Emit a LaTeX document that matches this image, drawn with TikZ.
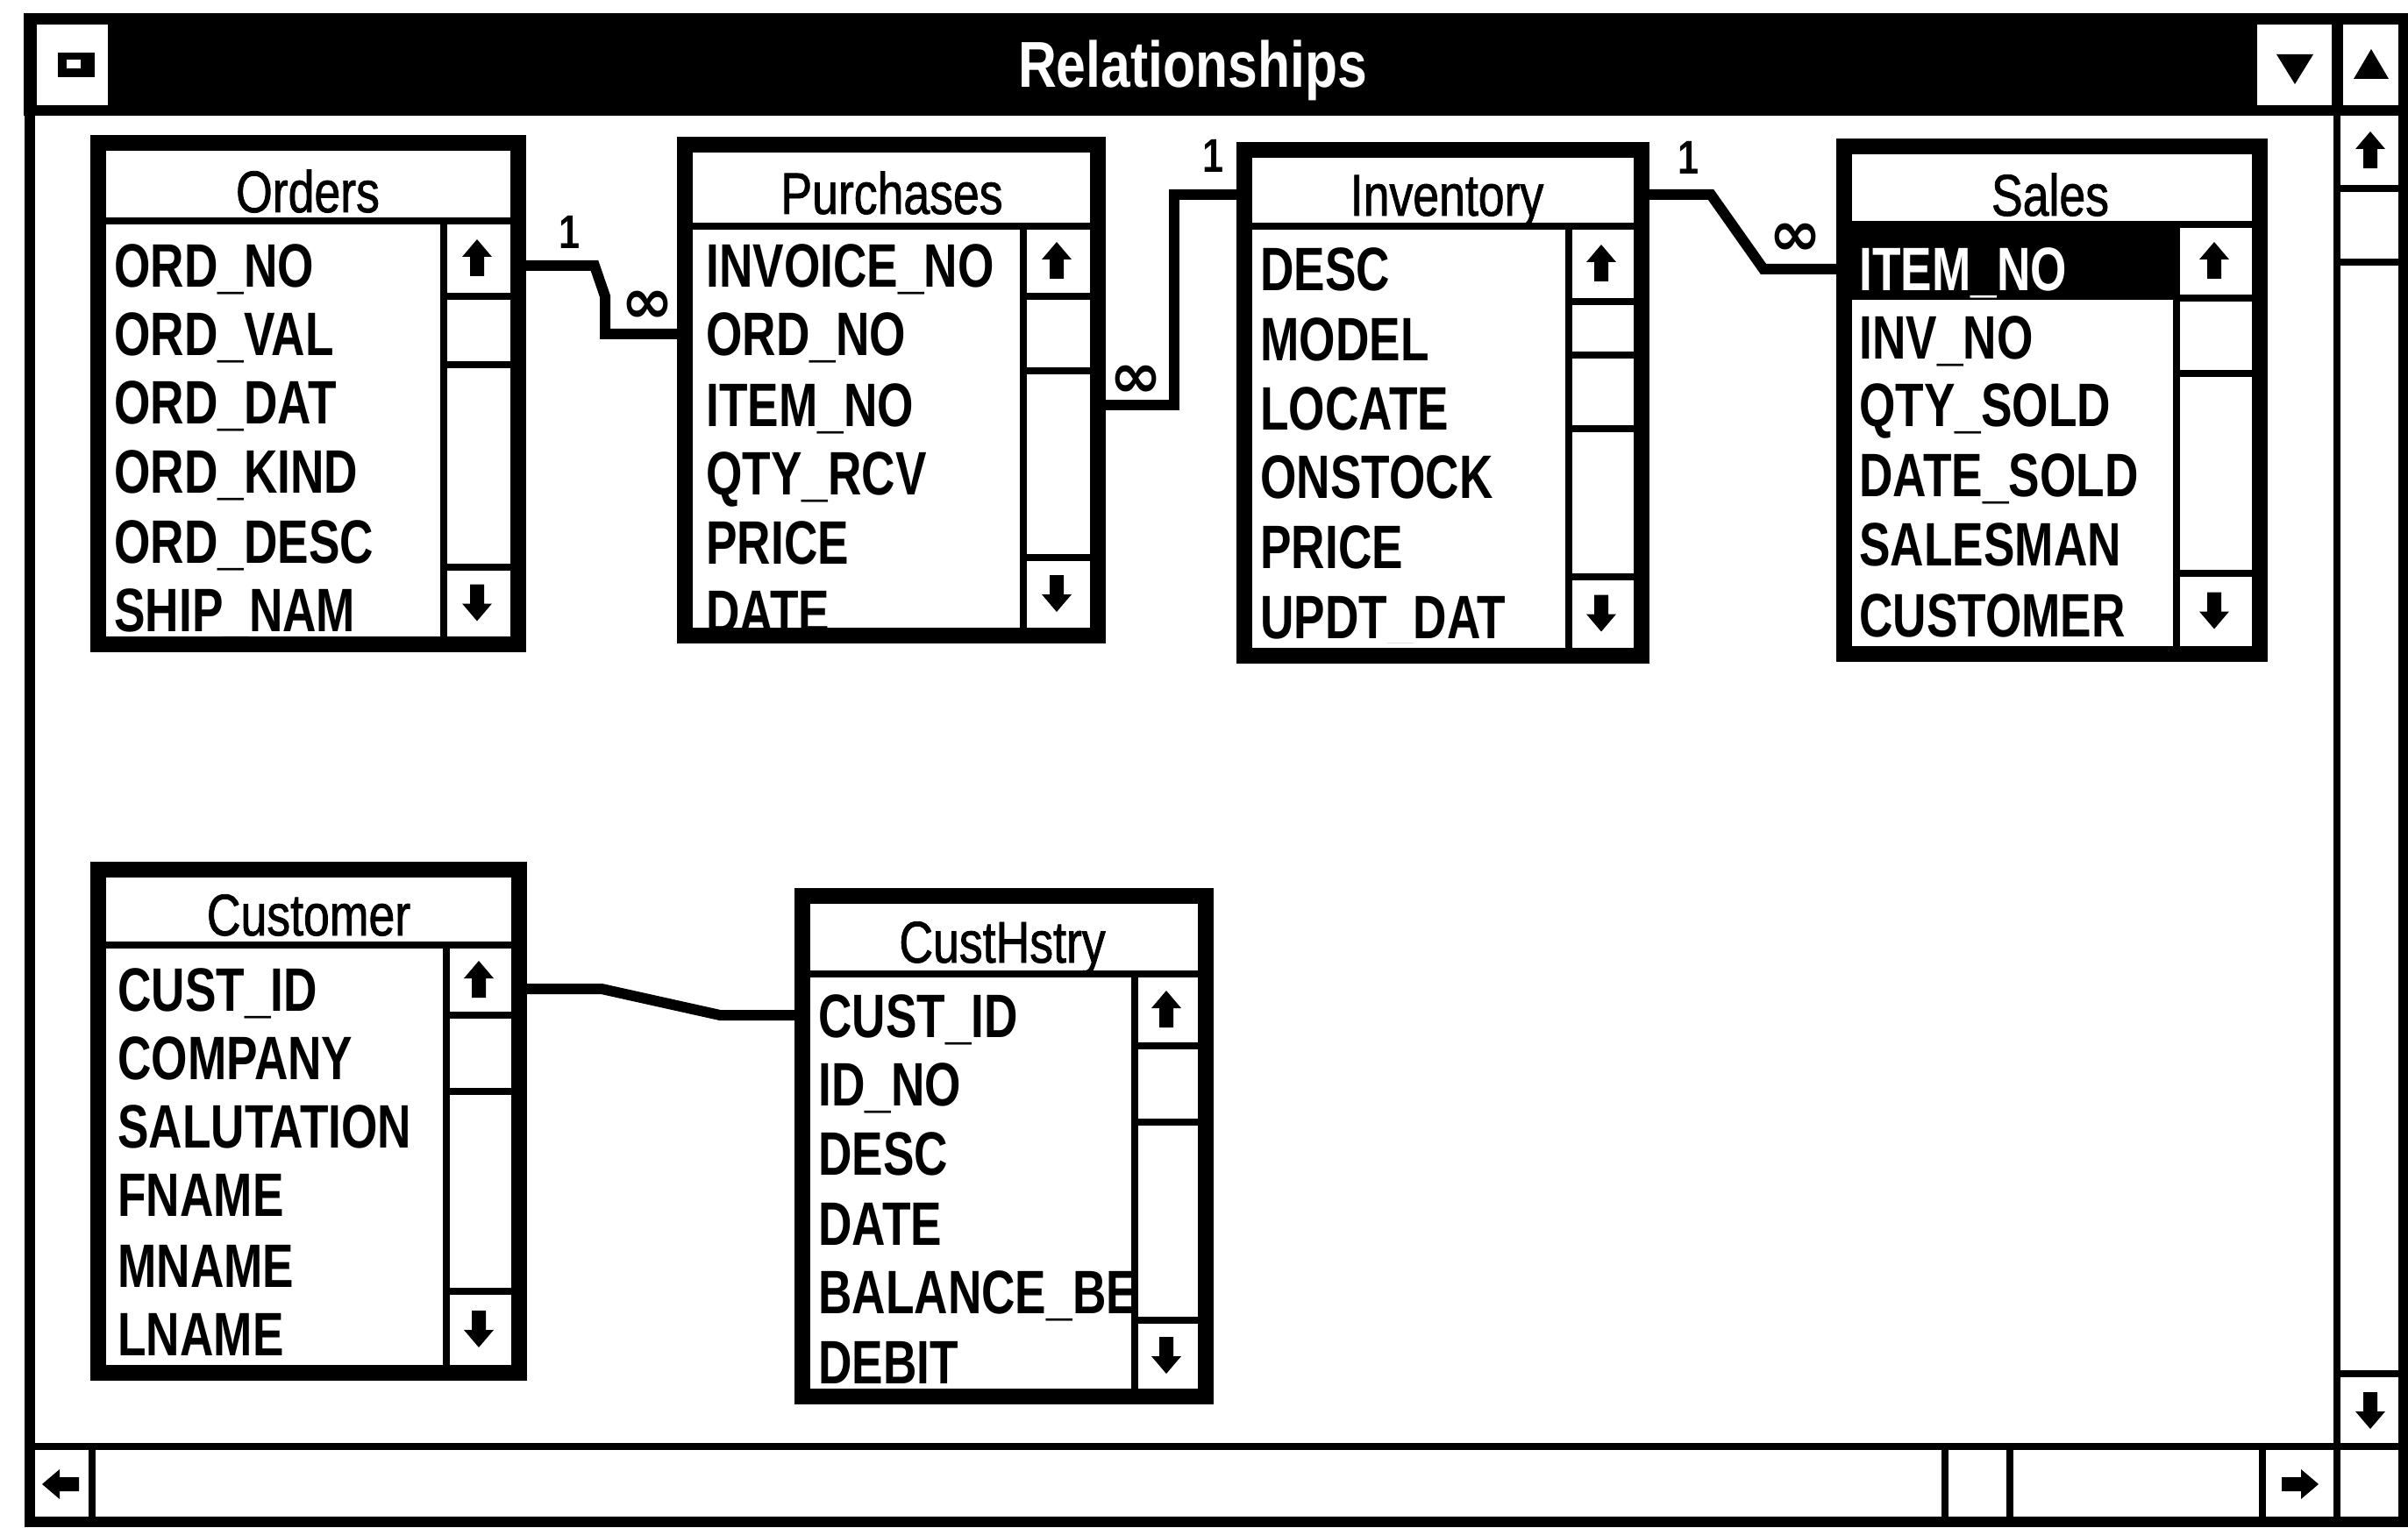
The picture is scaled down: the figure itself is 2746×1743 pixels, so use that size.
\documentclass[tikz,border=0pt]{standalone}
\usepackage{fontspec}
\setmainfont{Liberation Sans}
\newfontfamily\rowfont[FakeStretch=0.76]{Liberation Sans Bold}
\newfontfamily\ttlfont[FakeStretch=0.8,FakeBold=1.2]{Liberation Sans}
\newfontfamily\wtfont[FakeStretch=0.82]{Liberation Sans Bold}
\newfontfamily\lblfont[FakeStretch=0.8]{Liberation Sans Bold}
\newfontfamily\symfont{DejaVu Sans Bold}
\usetikzlibrary{fit}
\tikzset{
  tblframe/.style={draw, line width=9pt, inner sep=0pt, fill=white},
  sbl/.style={line width=4pt},
  winl/.style={line width=6pt},
  conn/.style={line width=6pt, line join=miter},
  row/.style={anchor=west, inner sep=0pt, text height=25pt, text depth=0pt, font=\rowfont\fontsize{35}{40}\selectfont},
  ttl/.style={inner sep=0pt, text height=24pt, text depth=0pt, font=\ttlfont\fontsize{33.5}{40}\selectfont},
  lbl/.style={inner sep=0pt, font=\lblfont\fontsize{27}{30}\selectfont},
  inf/.style={inner sep=0pt, font=\symfont\fontsize{36}{40}\selectfont},
  uparw/.pic={\fill (0,-22) -- (17,-2) -- (8,-2) -- (8,20) -- (-8,20) -- (-8,-2) -- (-17,-2) -- cycle;},
  dnarw/.pic={\fill (0,22) -- (17,2) -- (8,2) -- (8,-20) -- (-8,-20) -- (-8,2) -- (-17,2) -- cycle;},
  ltarw/.pic={\fill (-22,0) -- (-2,-17) -- (-2,-8) -- (20,-8) -- (20,8) -- (-2,8) -- (-2,17) -- cycle;},
  rtarw/.pic={\fill (22,0) -- (2,-17) -- (2,-8) -- (-20,-8) -- (-20,8) -- (2,8) -- (2,17) -- cycle;},
}
% #1 SBx, #2 inner right, #3 divider y, #4 inner bottom, #5 up-box bottom, #6 thumb top, #7 thumb bottom, #8 down-box top
\newcommand{\SBar}[8]{%
  \draw[sbl] (#1,#3) -- (#1,#4);
  \draw[sbl] (#1,#5) -- (#2,#5);
  \draw[sbl] (#1,#6) -- (#2,#6);
  \draw[sbl] (#1,#7) -- (#2,#7);
  \draw[sbl] (#1,#8) -- (#2,#8);
  \pic at ({(#1+#2)/2},{(#3+#5)/2}) {uparw};
  \pic at ({(#1+#2)/2},{(#8+#4)/2}) {dnarw};
}
\begin{document}
\begin{tikzpicture}[x=0.5pt,y=-0.5pt]
\useasboundingbox (0,0) rectangle (2746,1743);
\fill[white] (0,0) rectangle (2746,1743);

% ---------- window ----------
\fill[black] (27,15) rectangle (2746,132);
\fill[white] (42,28) rectangle (123,120);
\fill[black] (66,60) rectangle (108,88);
\fill[white] (76,68) rectangle (92,78);
\fill[white] (2574,28) rectangle (2659,120);
\fill[white] (2672,28) rectangle (2736,120);
\fill (2596,62) -- (2638,62) -- (2617,96) -- cycle;
\fill (2704,56) -- (2724,90) -- (2684,90) -- cycle;
\node[inner sep=0pt, text height=26.5pt, text depth=0pt, text=white, font=\wtfont\fontsize{37}{40}\selectfont] (wtitle) at (1360,73) {Relationships};
\draw[winl] (34,132) -- (34,1736) -- (2741,1736) -- (2741,15);
% right scrollbar
\draw[sbl] (2665,132) -- (2665,1736);
\draw[sbl] (2665,215) -- (2741,215);
\draw[sbl] (2665,299) -- (2741,299);
\draw[sbl] (2665,1567) -- (2741,1567);
\pic at (2703,172) {uparw};
\pic at (2703,1608) {dnarw};
% bottom scrollbar
\draw[sbl] (34,1650) -- (2741,1650);
\draw[sbl] (105,1650) -- (105,1736);
\draw[sbl] (2218,1650) -- (2218,1736);
\draw[sbl] (2292,1650) -- (2292,1736);
\draw[sbl] (2580,1650) -- (2580,1736);
\pic at (70,1693) {ltarw};
\pic at (2622,1693) {rtarw};

% ---------- Orders ----------
\node[tblframe, fit={(112,163) (591,735)}] (orders) {};
\draw[sbl] (121,252) -- (582,252);
\SBar{506}{582}{252}{726}{338}{338}{416}{647}
\node[ttl] (tord) at (351,218) {Orders};
\begin{scope}
\clip (121,256) rectangle (502,726);
\node[row] (o1) at (130,303) {ORD\_NO};
\node[row] (o2) at (130,381) {ORD\_VAL};
\node[row] (o3) at (130,459) {ORD\_DAT};
\node[row] (o4) at (130,538) {ORD\_KIND};
\node[row] (o5) at (130,617) {ORD\_DESC};
\node[row] (o6) at (130,695) {SHIP\_NAM};
\end{scope}

% ---------- Purchases ----------
\node[tblframe, fit={(781,165) (1252,725)}] (purchases) {};
\draw[sbl] (790,258) -- (1243,258);
\SBar{1167}{1243}{258}{716}{338}{338}{423}{636}
\node[ttl] (tpur) at (1017,220) {Purchases};
\begin{scope}
\clip (790,262) rectangle (1163,716);
\node[row] (p1) at (805,303) {INVOICE\_NO};
\node[row] (p2) at (805,381) {ORD\_NO};
\node[row] (p3) at (805,462) {ITEM\_NO};
\node[row] (p4) at (805,540) {QTY\_RCV};
\node[row] (p5) at (805,618) {PRICE};
\node[row] (p6) at (805,697) {DATE};
\end{scope}

% ---------- Inventory ----------
\node[tblframe, fit={(1419,171) (1872,748)}] (inventory) {};
\draw[sbl] (1428,258) -- (1863,258);
\SBar{1789}{1863}{258}{739}{344}{405}{489}{658}
\node[ttl] (tinv) at (1650,222) {Inventory};
\begin{scope}
\clip (1428,262) rectangle (1785,733);
\node[row] (i1) at (1437,307) {DESC};
\node[row] (i2) at (1437,387) {MODEL};
\node[row] (i3) at (1437,466) {LOCATE};
\node[row] (i4) at (1437,544) {ONSTOCK};
\node[row] (i5) at (1437,623) {PRICE};
\node[row] (i6) at (1437,703) {UPDT\_DAT};
\end{scope}

% ---------- Sales ----------
\node[tblframe, fit={(2103,167) (2577,746)}] (sales) {};
\draw[sbl] (2112,256) -- (2568,256);
\fill (2112,260) rectangle (2482,342);
\SBar{2482}{2568}{256}{737}{340}{340}{426}{654}
\node[ttl] (tsal) at (2338,222) {Sales};
\begin{scope}
\clip (2112,260) rectangle (2478,737);
\node[row, text=white] (s1) at (2120,307) {ITEM\_NO};
\node[row] (s2) at (2120,385) {INV\_NO};
\node[row] (s3) at (2120,462) {QTY\_SOLD};
\node[row] (s4) at (2120,542) {DATE\_SOLD};
\node[row] (s5) at (2120,621) {SALESMAN};
\node[row] (s6) at (2120,701) {CUSTOMER};
\end{scope}

% ---------- Customer ----------
\node[tblframe, fit={(112,992) (592,1566)}] (customer) {};
\draw[sbl] (121,1078) -- (583,1078);
\SBar{509}{583}{1078}{1557}{1158}{1158}{1245}{1473}
\node[ttl] (tcus) at (352,1043) {Customer};
\begin{scope}
\clip (121,1082) rectangle (505,1557);
\node[row] (c1) at (134,1128) {CUST\_ID};
\node[row] (c2) at (134,1206) {COMPANY};
\node[row] (c3) at (134,1284) {SALUTATION};
\node[row] (c4) at (134,1362) {FNAME};
\node[row] (c5) at (134,1443) {MNAME};
\node[row] (c6) at (134,1521) {LNAME};
\end{scope}

% ---------- CustHstry ----------
\node[tblframe, fit={(915,1022) (1375,1593)}] (custhstry) {};
\draw[sbl] (924,1111) -- (1366,1111);
\SBar{1294}{1366}{1111}{1584}{1193}{1193}{1280}{1506}
\node[ttl] (thst) at (1143,1074) {CustHstry};
\begin{scope}
\clip (924,1115) rectangle (1290,1584);
\node[row] (h1) at (933,1158) {CUST\_ID};
\node[row] (h2) at (933,1236) {ID\_NO};
\node[row] (h3) at (933,1315) {DESC};
\node[row] (h4) at (933,1395) {DATE};
\node[row] (h5) at (933,1473) {BALANCE\_BEF};
\node[row] (h6) at (933,1553) {DEBIT};
\end{scope}

% ---------- relationships ----------
\draw[conn] (orders.east |- o1) -- ++(78,0) -- ++(12,35) |- (purchases.west |- p2);
\node[lbl] (one1) at (650,265) {1};
\node[inf] (inf1) at (738,350) {∞};

\draw[conn] (purchases.east |- p3) -- ++(78,0) |- (inventory.west |- tinv);
\node[inf] (inf2) at (1295,435) {∞};
\node[lbl] (one2) at (1383,178) {1};

\draw[conn] (inventory.east |- tinv) -- ++(70,0) -- ++(60,85) -- (sales.west |- s1);
\node[lbl] (one3) at (1925,180) {1};
\node[inf] (inf3) at (2047,273) {∞};

\draw[conn] (customer.east |- c1) -- ++(85,0) -- ++(135,30) -- (custhstry.west |- h1);
\end{tikzpicture}
\end{document}
